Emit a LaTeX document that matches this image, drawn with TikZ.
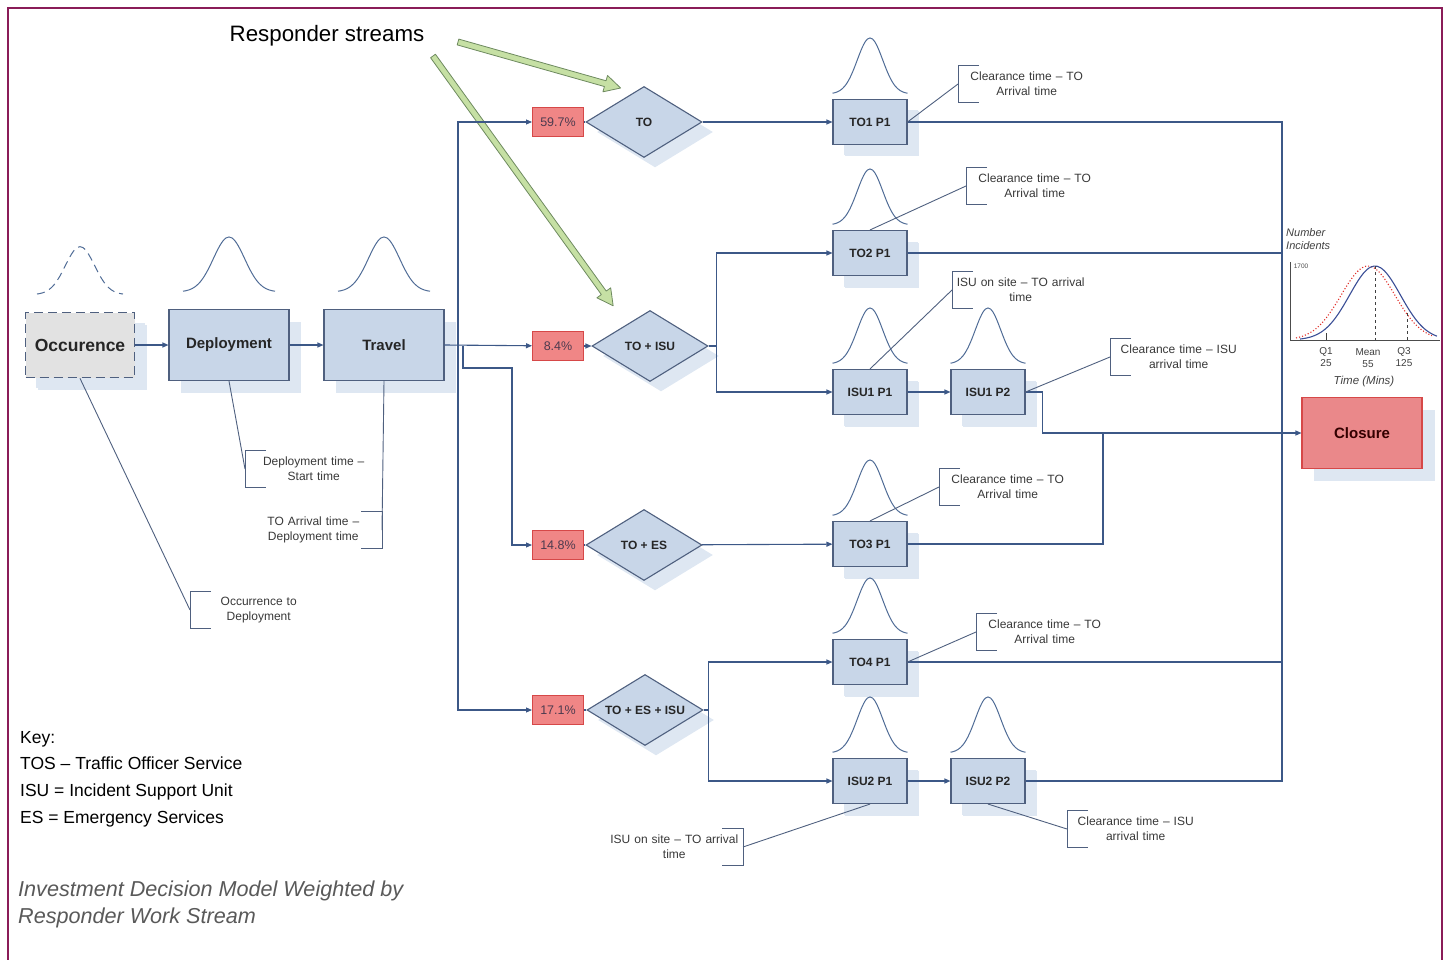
\documentclass[tikz,border=0pt]{standalone}
\usepackage{fontspec}
\setmainfont{Liberation Sans}
\usetikzlibrary{arrows.meta,shapes.geometric,shadows,calc}
\definecolor{flowBlue}{RGB}{60,88,135}
\definecolor{boxFill}{RGB}{200,214,232}
\definecolor{boxEdge}{RGB}{79,96,127}
\definecolor{shadowBlue}{RGB}{222,231,242}
\definecolor{occFill}{RGB}{226,226,226}
\definecolor{pctFill}{RGB}{240,134,134}
\definecolor{pctEdge}{RGB}{214,72,72}
\definecolor{pctText}{RGB}{77,59,79}
\definecolor{closFill}{RGB}{234,136,138}
\definecolor{bellBlue}{RGB}{80,108,150}
\definecolor{ghostGray}{RGB}{205,205,205}
\definecolor{noteGray}{RGB}{56,56,56}
\definecolor{frameMagenta}{RGB}{138,28,88}
\definecolor{streamFill}{RGB}{198,224,164}
\definecolor{streamEdge}{RGB}{110,138,95}
\definecolor{chartBlue}{RGB}{58,78,150}
\definecolor{chartRed}{RGB}{224,48,42}

\begin{document}
\begin{tikzpicture}[x=1pt,y=-1pt,
    stage/.style={draw=boxEdge, fill=boxFill, line width=1.1pt, minimum width=120pt, minimum height=71pt,
      text=black!85, font=\fontsize{15}{18}\selectfont\bfseries,
      drop shadow={shadow xshift=12pt, shadow yshift=-12pt, fill=shadowBlue, opacity=1}},
    proc/.style={stage, minimum width=74pt, minimum height=45pt, font=\fontsize{12}{14}\selectfont\bfseries,
      drop shadow={shadow xshift=11pt, shadow yshift=-11pt, fill=shadowBlue, opacity=1}},
    choice/.style={diamond, aspect=1.63, draw=boxEdge, fill=boxFill, line width=1.1pt, inner sep=1pt,
      minimum width=116pt, minimum height=71pt, text=black!85, font=\fontsize{12}{14}\selectfont\bfseries,
      drop shadow={shadow xshift=11pt, shadow yshift=-10pt, fill=shadowBlue, opacity=1}},
    pct/.style={draw=pctEdge, fill=pctFill, line width=1pt, minimum width=51pt, minimum height=29pt,
      inner sep=0pt, text=pctText, font=\fontsize{12.5}{14}\selectfont},
    flow/.style={draw=flowBlue, line width=1.1pt, -{Triangle[length=6pt,width=5pt]}},
    link/.style={draw=flowBlue, line width=1.1pt},
    note/.style={text width=130pt, align=center, inner xsep=3.5pt, inner ysep=4.5pt, minimum height=36pt,
      text=noteGray, font=\fontsize{12}{15}\selectfont},
    bracket/.style={draw=boxEdge, line width=1pt},
    leader/.style={draw=boxEdge, line width=0.9pt},
    bellline/.style={draw=bellBlue, line width=1pt},
    streamarrow/.style={draw=streamEdge, fill=streamFill, line width=0.8pt, line join=round},
    pics/bell/.style 2 args={code={
      \draw[bellline, pic actions] plot[smooth, domain=-#1:#1, samples=31]
        (\x, {-#2*exp(-(\x*\x)/(0.2304*#1*#1))});}}
  ]
  \useasboundingbox (0,0) rectangle (1450,960);

  % frame
  \draw[frameMagenta, line width=2pt] (8,960) -- (8,8) -- (1442,8) -- (1442,960);

  % title and streams
  \node (streams) at (327,36) {\fontsize{22.3}{26}\selectfont Responder streams};
  \begin{scope}[shift={(458,42)}, rotate=-15.8]
    \draw[streamarrow] (0,-3) -- (153,-3) -- (153,-8.5) -- (169,0) -- (153,8.5) -- (153,3) -- (0,3) -- cycle;
  \end{scope}
  \begin{scope}[shift={(433,56)}, rotate=-54.2]
    \draw[streamarrow] (0,-3) -- (292,-3) -- (292,-8.5) -- (308,0) -- (292,8.5) -- (292,3) -- (0,3) -- cycle;
  \end{scope}

  % main stages
  \node[stage, fill=occFill, line width=1.7pt, dash pattern=on 9pt off 5pt, minimum width=109pt, minimum height=65pt,
    font=\fontsize{17.5}{20}\selectfont\bfseries,
    drop shadow={shadow xshift=10pt, shadow yshift=-10pt, fill=shadowBlue, opacity=1}] (occ) at (80,345) {Occurence};
  \node[stage] (dep) at (229,345) {Deployment};
  \node[stage] (trav) at (384,345) {Travel};

  \pic[draw=ghostGray, dash pattern=on 8pt off 5pt] at ([yshift=17pt]occ.north) {bell={43}{48}};
  \pic at ([yshift=17pt]dep.north) {bell={46}{55}};
  \pic at ([yshift=17pt]trav.north) {bell={46}{55}};

  % stream weights
  \node[pct] (p1) at (558,122) {59.7\%};
  \node[pct] (p2) at (558,346) {8.4\%};
  \node[pct] (p3) at (558,545) {14.8\%};
  \node[pct] (p4) at (558,710) {17.1\%};

  \node[choice] (d1) at (644,122) {TO};
  \node[choice] (d2) at (650,346) {TO + ISU};
  \node[choice] (d3) at (644,545) {TO + ES};
  \node[choice] (d4) at (645,710) {TO + ES + ISU};

  % responder processes
  \node[proc] (to1) at (870,122) {TO1 P1};
  \node[proc] (to2) at (870,253) {TO2 P1};
  \node[proc] (isu1a) at (870,392) {ISU1 P1};
  \node[proc] (isu1b) at (988,392) {ISU1 P2};
  \node[proc] (to3) at (870,544) {TO3 P1};
  \node[proc] (to4) at (870,662) {TO4 P1};
  \node[proc] (isu2a) at (870,781) {ISU2 P1};
  \node[proc] (isu2b) at (988,781) {ISU2 P2};

  \foreach \b in {to1,to2,isu1a,isu1b,to3,to4,isu2a,isu2b}
    \pic at ([yshift=5pt]\b.north) {bell={37.5}{56}};

  \node[stage, fill=closFill, draw=pctEdge, text=black!80!red, minimum width=120pt, minimum height=71pt,
    drop shadow={shadow xshift=13pt, shadow yshift=-12pt, fill=shadowBlue, opacity=1}] (clos) at (1362,433) {Closure};

  % connectors
  \coordinate (split) at (458,346);
  \coordinate (busTop) at (1282,122);
  \coordinate (busBot) at (1282,781);
  \coordinate (join) at (1103,433);

  \draw[flow] (occ) -- (dep);
  \draw[flow] (dep) -- (trav);
  \draw[flow] (trav.east) -- (p2);
  \draw[flow] (split) |- (p1);
  \draw[flow] (split) |- (p4);
  \draw[flow] ([xshift=5pt]split) -- ++(0,22) -| ([xshift=-20pt]p3.west) -- (p3);

  \draw[link] (p1) -- (d1);
  \draw[flow] (p2) -- (d2);
  \draw[link] (p3) -- (d3);
  \draw[link] (p4) -- (d4);

  \draw[flow] (d1) -- (to1);
  \draw[flow] (d2.east) -- ++(8,0) |- (to2);
  \draw[flow] (d2.east) -- ++(8,0) |- (isu1a);
  \draw[flow] (isu1a) -- (isu1b);
  \draw[flow] (d3) -- (to3);
  \draw[flow] (d4.east) -- ++(5,0) |- (to4);
  \draw[flow] (d4.east) -- ++(5,0) |- (isu2a);
  \draw[flow] (isu2a) -- (isu2b);

  \draw[link] (to1) -- (busTop) -- (busBot) -- (isu2b);
  \draw[link] (to2) -- (to2 -| busTop);
  \draw[link] (to4) -- (to4 -| busTop);
  \draw[link] (to3) -| (join);
  \draw[flow] (isu1b.east) -- ++(17,0) |- (clos);

  % callouts
  \node[note, anchor=west] (cto1) at (958,84) {Clearance time – TO\\Arrival time};
  \node[note, anchor=west] (cto2) at (966,186) {Clearance time – TO\\Arrival time};
  \node[note, anchor=west] (cisu1) at (952,290) {ISU on site – TO arrival\\time};
  \node[note, anchor=west] (cisu1b) at (1110,357) {Clearance time – ISU\\arrival time};
  \node[note, anchor=west] (cto3) at (939,487) {Clearance time – TO\\Arrival time};
  \node[note, anchor=west] (cto4) at (976,632) {Clearance time – TO\\Arrival time};
  \node[note, anchor=west] (cisu2b) at (1067,829) {Clearance time – ISU\\arrival time};
  \node[note, anchor=west] (cdep) at (245,469) {Deployment time –\\Start time};
  \node[note, anchor=west] (cocc) at (190,610) {Occurrence to\\Deployment};
  \node[note, anchor=east] (ctrav) at (382,530) {TO Arrival time –\\Deployment time};
  \node[note, anchor=east] (cisu2a) at (743,847) {ISU on site – TO arrival\\time};

  \foreach \c in {cto1,cto2,cisu1,cisu1b,cto3,cto4,cisu2b,cdep,cocc}
    \draw[bracket] ([xshift=21pt]\c.north west) -- (\c.north west) -- (\c.south west) -- ++(21,0);
  \foreach \c in {ctrav,cisu2a}
    \draw[bracket] ([xshift=-21pt]\c.north east) -- (\c.north east) -- (\c.south east) -- ++(-21,0);

  \draw[leader] (to1.east) -- (cto1.west);
  \draw[leader] (to2.north) -- (cto2.west);
  \draw[leader] (isu1a.north) -- (cisu1.west);
  \draw[leader] (isu1b.east) -- (cisu1b.west);
  \draw[leader] (to3.north) -- (cto3.west);
  \draw[leader] (to4.east) -- (cto4.west);
  \draw[leader] (isu2a.south) -- (cisu2a.east);
  \draw[leader] (isu2b.south) -- (cisu2b.west);
  \draw[leader] (dep.south) -- (cdep.west);
  \draw[leader] (trav.south) -- (ctrav.east);
  \draw[leader] (occ.south) -- (cocc.west);

  % incident time distribution
  \draw[black!70, line width=0.8pt] (1290,262) -- (1290,340) -- (1440,340);
  \draw[chartRed, line width=1.1pt, dotted] plot[smooth, domain=1296:1432, samples=40]
    (\x, {340-74*exp(-((\x-1368)*(\x-1368))/1444)});
  \draw[chartBlue, line width=1.1pt] plot[smooth, domain=1300:1437, samples=40]
    (\x, {340-74*exp(-((\x-1375)*(\x-1375))/1296)});
  \draw[black!75, line width=1pt, dashed] (1375,266) -- (1375,340);
  \draw[black!75, line width=1pt, dashed] (1407,313) -- (1407,340);
  \draw[black!75, line width=1pt] (1326,333) -- (1326,340);
  \node[anchor=west, align=left, inner sep=0pt, text=black!75, font=\fontsize{11}{13}\selectfont\itshape]
    (axisy) at (1286,239) {Number\\Incidents};
  \node[text=black!70, inner sep=0pt, font=\fontsize{6.5}{7}\selectfont] (ymax) at (1301,266) {1700};
  \node[align=center, inner sep=0pt, text=black!75, font=\fontsize{10}{12.5}\selectfont] (q1) at (1326,357) {Q1\\25};
  \node[align=center, inner sep=0pt, text=black!75, font=\fontsize{10}{12.5}\selectfont] (qmean) at (1368,358) {Mean\\55};
  \node[align=center, inner sep=0pt, text=black!75, font=\fontsize{10}{12.5}\selectfont] (q3) at (1404,357) {Q3\\125};
  \node[text=black!75, inner sep=0pt, font=\fontsize{11.5}{13}\selectfont\itshape] (axisx) at (1364,382) {Time (Mins)};

  % key and caption
  \node[anchor=north west, align=left, inner sep=0pt, font=\fontsize{17.5}{26.7}\selectfont] (key) at (20,731)
    {Key:\\TOS – Traffic Officer Service\\ISU = Incident Support Unit\\ES = Emergency Services};
  \node[anchor=north west, align=left, inner sep=0pt, text=black!65, font=\fontsize{21.6}{27}\selectfont\itshape]
    (caption) at (18,881) {Investment Decision Model Weighted by\\Responder Work Stream};
\end{tikzpicture}
\end{document}
